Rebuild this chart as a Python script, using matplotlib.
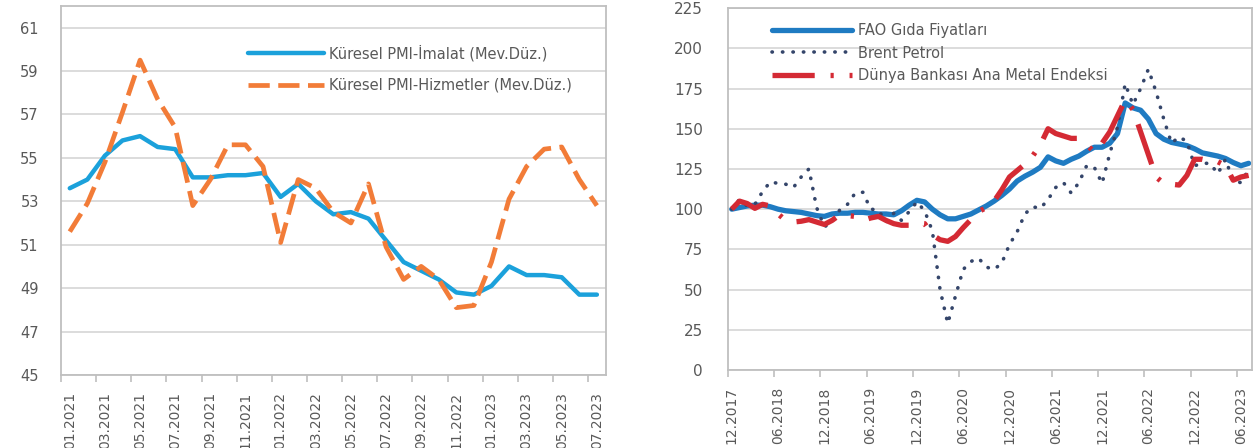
import matplotlib
matplotlib.use('Agg')
import matplotlib.pyplot as plt

# left panel: global PMI, monthly 01.2021 - 07.2023
pmi_labels = ['01.2021', '03.2021', '05.2021', '07.2021', '09.2021', '11.2021',
              '01.2022', '03.2022', '05.2022', '07.2022', '09.2022', '11.2022',
              '01.2023', '03.2023', '05.2023', '07.2023']
imalat = [53.6, 54.0, 55.1, 55.8, 56.0, 55.5, 55.4, 54.1, 54.1, 54.2, 54.2, 54.3,
          53.2, 53.8, 53.0, 52.4, 52.5, 52.2, 51.2, 50.2, 49.8, 49.4, 48.8, 48.7,
          49.1, 50.0, 49.6, 49.6, 49.5, 48.7, 48.7]
hizmet = [51.6, 52.9, 54.8, 57.1, 59.5, 57.7, 56.4, 52.8, 54.0, 55.6, 55.6, 54.6,
          51.1, 54.0, 53.6, 52.5, 52.0, 53.8, 50.9, 49.4, 50.0, 49.4, 48.1, 48.2,
          50.2, 53.1, 54.6, 55.4, 55.5, 54.0, 52.8]

# right panel: index 12.2017=100, monthly 12.2017 - 07.2023
emtia_labels = ['12.2017', '06.2018', '12.2018', '06.2019', '12.2019', '06.2020',
                '12.2020', '06.2021', '12.2021', '06.2022', '12.2022', '06.2023']
fao = [100, 101, 102, 102.5, 102.5, 101.5, 100, 99, 98.5, 98, 97, 96, 95.5,
       97, 97.5, 97.5, 98, 98, 97.5, 97, 97, 96.5, 99, 102.5, 105.5,
       104.5, 100, 96.5, 94, 94, 95.5, 97, 99.5, 102, 105, 108.5, 112.5,
       117.5, 120.5, 123, 126, 132.5, 130, 128.5, 131, 133, 136, 138.5, 138.5,
       141, 147, 166, 163, 161.5, 156, 147, 143.5, 141.5, 140.5, 139.5, 137.5,
       135, 134, 133, 131.5, 129, 127, 128.5]
brent = [100, 106, 102, 103, 111, 117, 116, 115.5, 113.5, 120, 125, 101, 89,
         92, 99.5, 103, 110, 110.5, 100, 99.5, 92, 97.5, 93, 98.5, 104.5,
         99, 86.5, 50, 29, 46, 62.5, 67.5, 69.5, 64, 62.5, 66.5, 78,
         86, 97, 101.5, 100.5, 106, 113.5, 116.5, 110, 116.5, 127, 126, 116,
         134.5, 151, 178, 165, 175, 187, 173, 156, 141, 145, 142, 127,
         128.5, 128.5, 122, 131, 117.5, 116.5, 124.5]
metal = [100, 105, 103.5, 100.5, 103, 102, 97, 93, 92, 92.5, 93.5, 92, 90.5,
         93, 96.5, 96, 95.5, 93, 94.5, 95.5, 93, 91, 90, 90, 91.5,
         91, 84, 81, 80, 83, 88.5, 93.5, 98.5, 101, 105, 112, 120,
         124, 128, 133, 140, 150, 147, 145.5, 144, 144, 140, 135.5, 141,
         148, 158, 168, 162, 148, 134, 120, 116, 115.5, 115, 121, 131,
         131, 130, 129.5, 127, 118, 120, 121]

txt = '#595959'
grid_c = '#D9D9D9'
spine_c = '#BFBFBF'

fig = plt.figure(figsize=(12.55, 4.48), dpi=100)
ax1 = fig.add_axes([0.0486, 0.163, 0.434, 0.824])
ax2 = fig.add_axes([0.580, 0.174, 0.418, 0.808])

# ---- left
x1 = range(len(imalat))
ax1.plot(x1, imalat, color='#1BA1DB', lw=3.2, solid_capstyle='round',
         label='Küresel PMI-İmalat (Mev.Düz.)')
ax1.plot(x1, hizmet, color='#F27C38', lw=3.4, dashes=(4.5, 1.8),
         label='Küresel PMI-Hizmetler (Mev.Düz.)')
ax1.set_xlim(-0.5, len(imalat) - 0.5)
ax1.set_ylim(45, 62)
ax1.set_yticks(range(45, 62, 2))
ax1.set_xticks(range(0, len(imalat), 2))
ax1.set_xticklabels(pmi_labels, rotation=90)
ax1.set_xticks([i - 0.5 for i in range(0, len(imalat), 2)], minor=True)
ax1.tick_params(axis='both', which='major', length=0, labelsize=10.5, colors=txt)
ax1.tick_params(axis='y', pad=16)
ax1.tick_params(axis='x', pad=12, labelsize=10)
ax1.tick_params(axis='x', which='minor', length=5, color=spine_c, width=1.2)
ax1.grid(axis='y', color=grid_c, lw=1.3)
ax1.set_axisbelow(True)
leg1 = ax1.legend(loc='upper left', bbox_to_anchor=(0.343, 0.895), frameon=False,
                  fontsize=10.5, handlelength=5.2, handletextpad=0.4,
                  labelspacing=1.15, borderpad=0, borderaxespad=0)
for t in leg1.get_texts():
    t.set_color(txt)

# ---- right
x2 = range(len(fao))
ax2.plot(x2, fao, color='#1F7BC2', lw=3.8, solid_capstyle='round',
         label='FAO Gıda Fiyatları')
ax2.plot(x2, brent, color='#34456A', lw=2.6, dashes=(0.1, 2.8),
         dash_capstyle='round', label='Brent Petrol')
ax2.plot(x2, metal, color='#D42A34', lw=3.8, dashes=(8, 3, 0.6, 3),
         label='Dünya Bankası Ana Metal Endeksi')
ax2.set_xlim(-0.5, len(fao) - 0.5)
ax2.set_ylim(0, 225)
ax2.set_yticks(range(0, 226, 25))
ax2.set_xticks(range(0, len(fao), 6))
ax2.set_xticklabels(emtia_labels, rotation=90)
ax2.set_xticks([i - 0.5 for i in range(0, len(fao), 6)], minor=True)
ax2.tick_params(axis='both', which='major', length=0, labelsize=11, colors=txt)
ax2.tick_params(axis='y', pad=18)
ax2.tick_params(axis='x', pad=12, labelsize=10)
ax2.tick_params(axis='x', which='minor', length=5, color=spine_c, width=1.2)
ax2.grid(axis='y', color=grid_c, lw=1.3)
ax2.set_axisbelow(True)
leg2 = ax2.legend(loc='upper left', bbox_to_anchor=(0.084, 0.958), frameon=False,
                  fontsize=10.5, handlelength=5.5, handletextpad=0.4,
                  labelspacing=0.5, borderpad=0, borderaxespad=0)
for t in leg2.get_texts():
    t.set_color(txt)

for ax in (ax1, ax2):
    for s in ax.spines.values():
        s.set_color(spine_c)
        s.set_linewidth(1.3)

fig.savefig('out.png', dpi=100)
